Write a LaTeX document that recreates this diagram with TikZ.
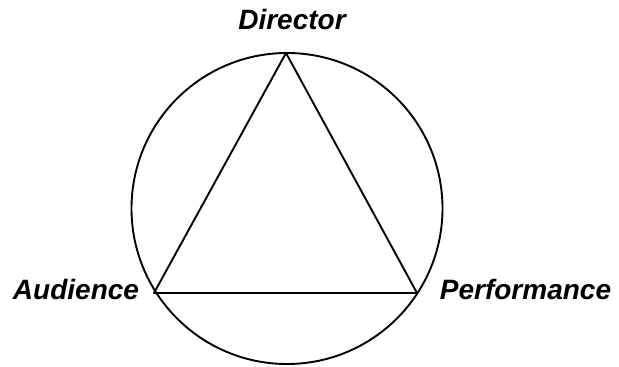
\documentclass[tikz,border=0pt]{standalone}
\usepackage{fontspec}
\setmainfont{Liberation Sans}
\begin{document}
\begin{tikzpicture}[x=1pt,y=1pt,
  lbl/.style={font=\fontsize{28}{32}\selectfont\bfseries\itshape, anchor=base, inner sep=0pt},
  edge/.style={line width=1.9pt, line join=round}]
\useasboundingbox (0,0) rectangle (619,367);
\coordinate (c) at (287,158.5);
\draw[edge] (c) circle[radius=155.5];
\coordinate (top) at (286,314);
\coordinate (left) at (154,74);
\coordinate (right) at (417,74);
\draw[edge] (top) -- (left) -- (right) -- cycle;
\node[lbl] (dir) at (292,337) {Director};
\node[lbl] (aud) at (76,67) {Audience};
\node[lbl] (perf) at (525.5,67) {Performance};
\end{tikzpicture}
\end{document}
